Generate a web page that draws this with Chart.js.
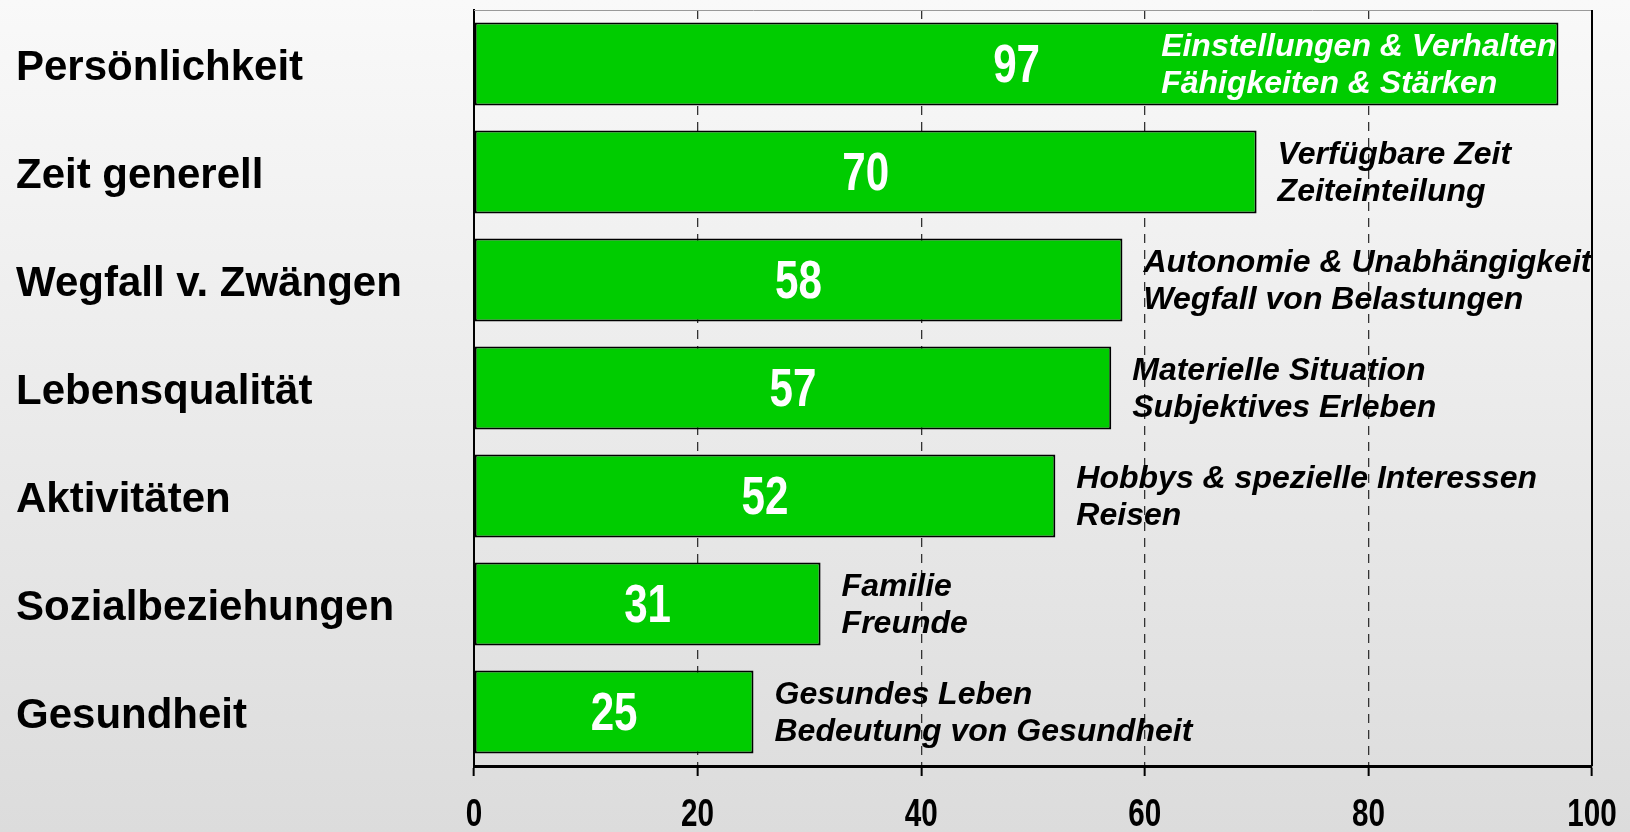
<!DOCTYPE html>
<html>
<head>
<meta charset="utf-8">
<script src="https://cdn.jsdelivr.net/npm/chart.js@4"></script>
<style>
    html, body {margin: 0; padding: 0;}
    body {width: 1630px; height: 832px; background: linear-gradient(#f9f9f9, #dcdcdc);}
    #wrap {width: 1630px; height: 832px;}
</style>
</head>
<body>
<div id="wrap"><canvas id="myChart"></canvas></div>
<script>
const categories = ['Persönlichkeit', 'Zeit generell', 'Wegfall v. Zwängen', 'Lebensqualität', 'Aktivitäten', 'Sozialbeziehungen', 'Gesundheit'];
const values = [97, 70, 58, 57, 52, 31, 25];
const notesTop = ['Einstellungen & Verhalten', 'Verfügbare Zeit', 'Autonomie & Unabhängigkeit', 'Materielle Situation', 'Hobbys & spezielle Interessen', 'Familie', 'Gesundes Leben'];
const notesBottom = ['Fähigkeiten & Stärken', 'Zeiteinteilung', 'Wegfall von Belastungen', 'Subjektives Erleben', 'Reisen', 'Freunde', 'Bedeutung von Gesundheit'];
const xTicks = [0, 20, 40, 60, 80, 100];

const normal = '"Liberation Sans", Arial, sans-serif';

// narrow bold text: Liberation Sans squeezed horizontally
function narrowText(c, txt, x, y, size, color) {
    c.save();
    c.font = 'bold ' + size + 'px ' + normal;
    c.fillStyle = color;
    c.textAlign = 'center';
    c.textBaseline = 'middle';
    c.translate(x, y);
    c.scale(0.78, 1);
    c.fillText(txt, 0, 0);
    c.restore();
}

// values in the bars + the two-line notes next to them
const barTexts = {
    id: 'barTexts',
    afterDatasetsDraw(chart) {
        const c = chart.ctx;
        const bars = chart.getDatasetMeta(0).data;
        c.save();
        bars.forEach(function (bar, i) {
            narrowText(c, String(values[i]), (bar.base + bar.x) / 2, bar.y + 3, 54, '#fff');

            c.font = 'italic bold 32px ' + normal;
            c.textAlign = 'left';
            c.textBaseline = 'middle';
            const w = Math.max(c.measureText(notesTop[i]).width, c.measureText(notesBottom[i]).width);
            let x = bar.x + 21;
            c.fillStyle = '#000';
            if (x + w > chart.width - 10) {
                x = bar.x - w - 2;
                c.fillStyle = '#fff';
            }
            c.fillText(notesTop[i], x, bar.y - 17);
            c.fillText(notesBottom[i], x, bar.y + 20);
        });
        c.restore();
    },
    afterDraw(chart) {
        const s = chart.scales.x;
        xTicks.forEach(function (v) {
            narrowText(chart.ctx, String(v), s.getPixelForValue(v), chart.chartArea.bottom + 50, 38, '#000');
        });
    }
};

// thin top and right border of the plot
const frame = {
    id: 'frame',
    beforeDatasetsDraw(chart) {
        const c = chart.ctx, a = chart.chartArea;
        c.save();
        c.strokeStyle = '#999';
        c.lineWidth = 1;
        c.beginPath();
        c.moveTo(a.left, a.top + 0.5);
        c.lineTo(a.right, a.top + 0.5);
        c.stroke();
        c.strokeStyle = '#000';
        c.lineWidth = 2;
        c.beginPath();
        c.moveTo(a.right, a.top);
        c.lineTo(a.right, a.bottom);
        c.stroke();
        c.restore();
    }
};

new Chart(document.getElementById('myChart'), {
    type: 'bar',
    data: {
        labels: categories,
        datasets: [{
            data: values,
            backgroundColor: '#00cc00',
            borderColor: '#000',
            borderWidth: 2,
            borderSkipped: false,
            barPercentage: 0.77,
            categoryPercentage: 1
        }]
    },
    options: {
        indexAxis: 'y',
        responsive: true,
        maintainAspectRatio: false,
        animation: false,
        layout: {padding: {left: 16, right: 38, top: 10, bottom: 0}},
        plugins: {legend: {display: false}, tooltip: {enabled: false}},
        scales: {
            x: {
                min: 0, max: 100,
                afterBuildTicks: function (s) { s.ticks = xTicks.map(v => ({value: v})); },
                afterFit: function (s) { s.height = 66; s.paddingLeft = 0; s.paddingRight = 0; },
                grid: {
                    color: ctx => (ctx.tick && (ctx.tick.value === 0 || ctx.tick.value === 100)) ? 'rgba(0,0,0,0)' : '#333',
                    lineWidth: 1.3,
                    tickColor: '#000',
                    tickWidth: 2,
                    tickLength: 10,
                    tickBorderDash: []
                },
                border: {display: true, color: '#000', width: 3, dash: [9, 7]},
                ticks: {display: false}
            },
            y: {
                afterFit: function (s) { s.width = 458; s.paddingTop = 0; s.paddingBottom = 0; },
                grid: {display: false},
                border: {display: true, color: '#000', width: 2},
                ticks: {
                    crossAlign: 'far',
                    labelOffset: 4,
                    color: '#000',
                    font: {family: normal, weight: 'bold', size: 42}
                }
            }
        }
    },
    plugins: [frame, barTexts]
});
</script>
</body>
</html>
